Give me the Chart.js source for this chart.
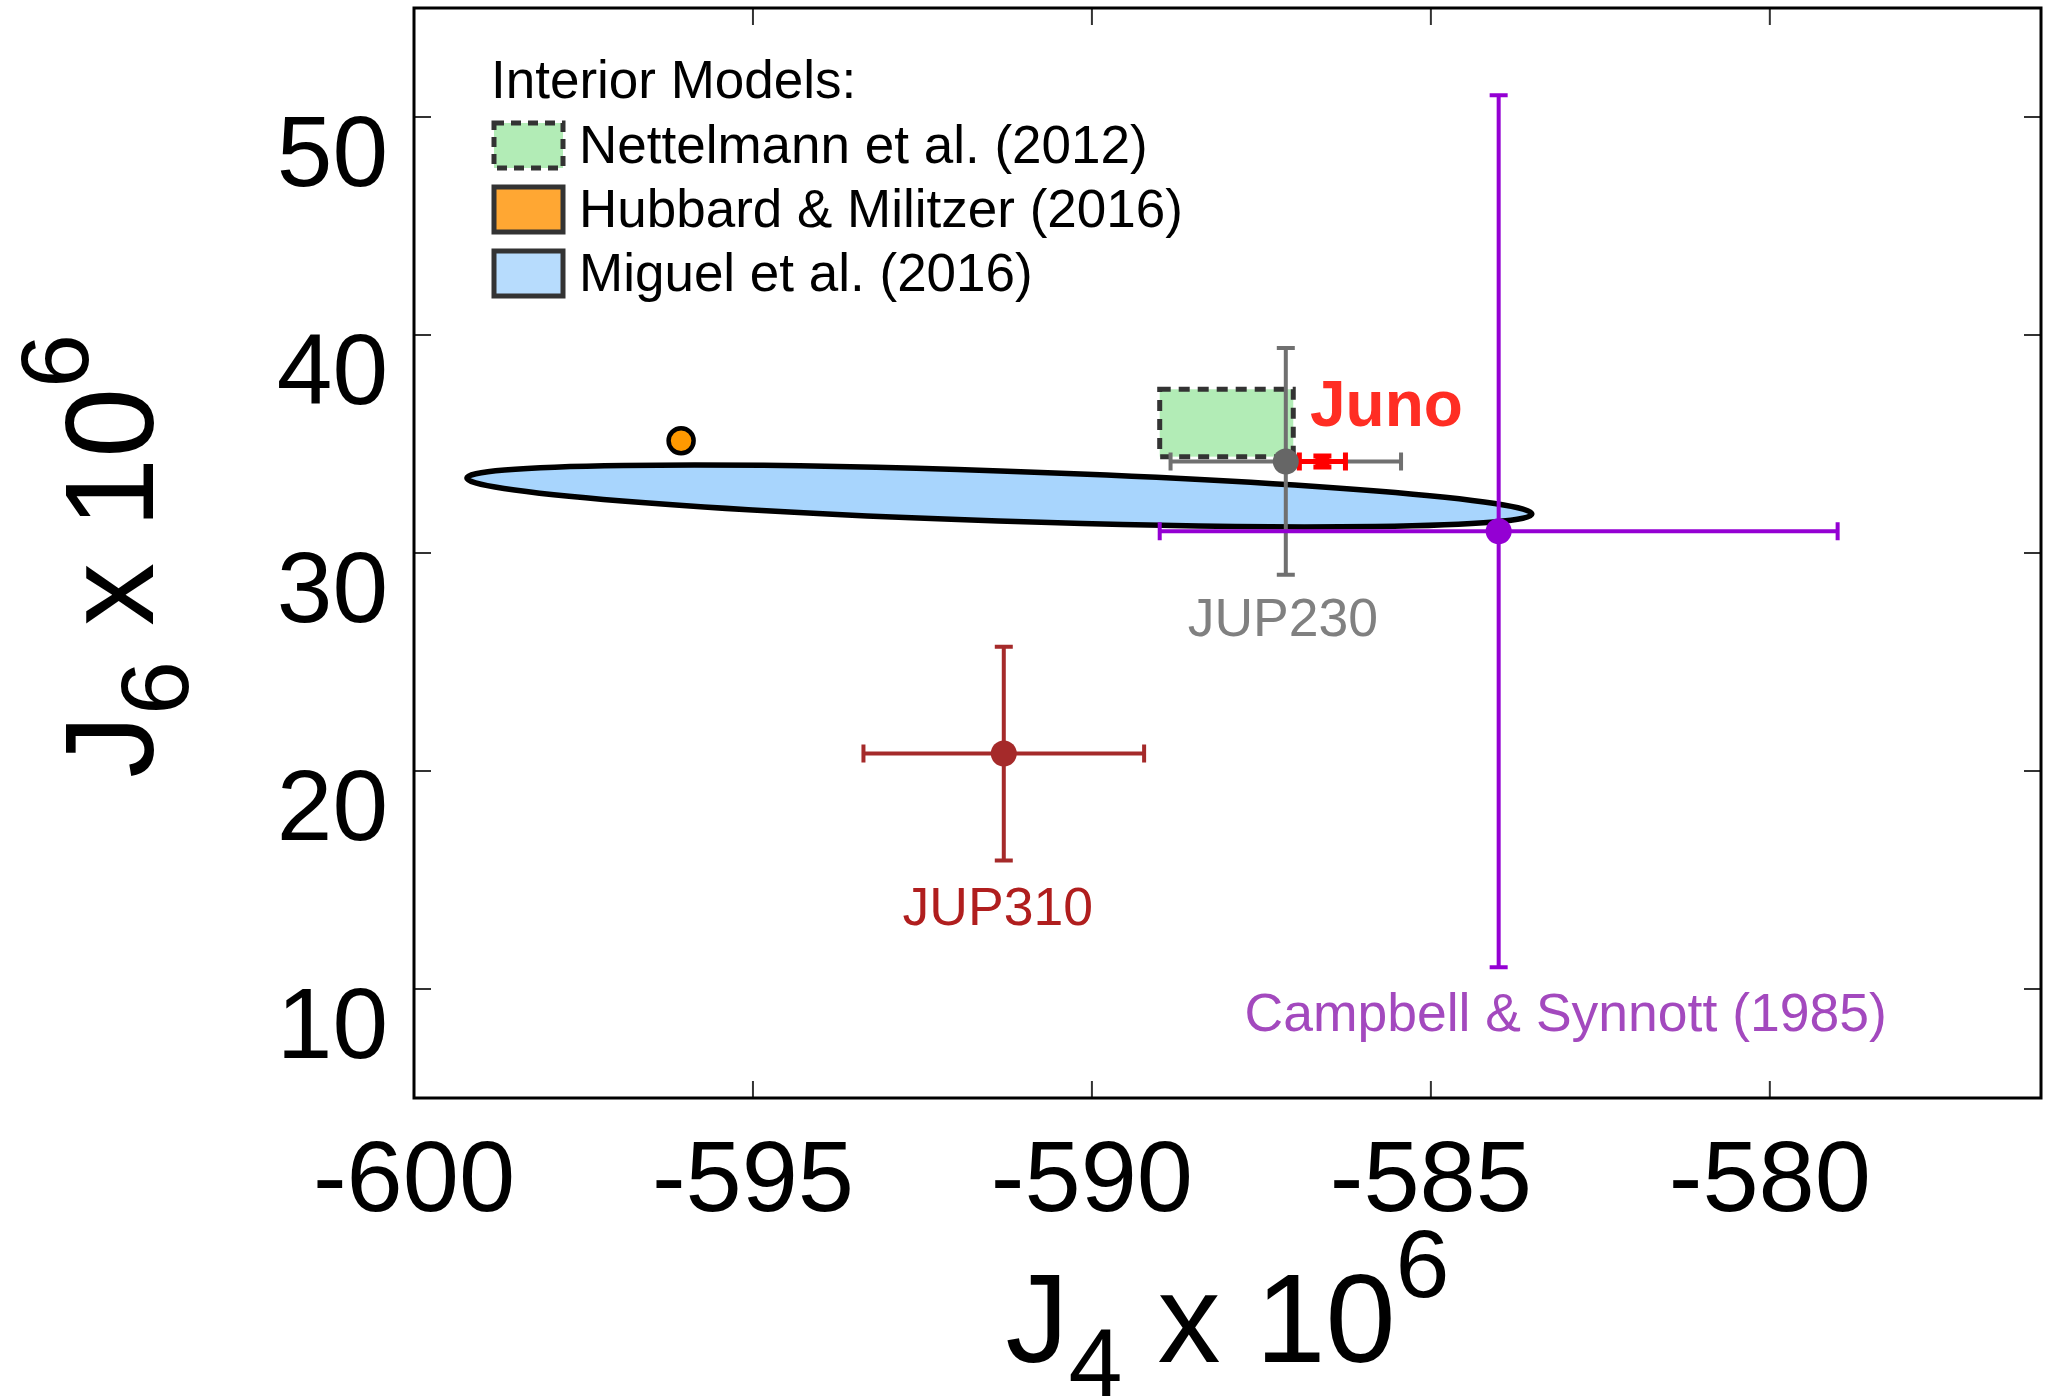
<!DOCTYPE html>
<html>
<head>
<meta charset="utf-8">
<script src="https://cdn.jsdelivr.net/npm/chart.js@4.4.0/dist/chart.umd.min.js"></script>
<style>
  html, body { margin: 0; padding: 0; background: #fff; }
  #wrap { width: 2065px; height: 1396px; }
</style>
</head>
<body>
<div id="wrap"><canvas id="myChart" width="2065" height="1396"></canvas></div>
<script>
// measured gravity harmonics (x 10^6)
const pointNames = ["JUP310", "JUP230", "Campbell & Synnott (1985)", "Juno"];
const j4Values = [-591.3, -587.14, -584.0, -586.6];
const j6Values = [20.8, 34.2, 31.0, 34.2];
const j4Errors = [2.07, 1.7, 5.0, 0.34];
const j6Errors = [4.9, 5.2, 20.0, 0.25];

// interior models
const hubbardJ4 = [-596.06];
const hubbardJ6 = [35.15];
const nettelmannJ4 = [-589.0, -587.03];
const nettelmannJ6 = [34.42, 37.51];
const miguelTipsJ4 = [-599.22, -583.51];
const miguelTipsJ6 = [33.44, 31.79];
const miguelHalfWidthJ6 = [1.15];

const legendTitle = "Interior Models:";
const legendLabels = ["Nettelmann et al. (2012)", "Hubbard & Militzer (2016)", "Miguel et al. (2016)"];

const xTicks = [-600, -595, -590, -585, -580];
const yTicks = [10, 20, 30, 40, 50];

// styles
const FONT = "'Liberation Sans', Arial, Helvetica, sans-serif";
const markerColors = ["#a52a2a", "#666666", "#9400d3", "#ff0000"];
const barColors = ["#a52a2a", "#707070", "#9400d3", "#ff0000"];
const labelColors = ["#b01e1e", "#808080", "#a349be", "#ff2d23"];
const labelFonts = ["53.5px " + FONT, "53.5px " + FONT, "53.5px " + FONT, "bold 64px " + FONT];
const labelShift = [[-6, 157], [-3, 160], [67, 485], [64, -53]];
const legendFills = ["#b2ecb6", "#ffa733", "#b7dcfd"];

const shapesPlugin = {
  id: "shapes",
  beforeDatasetsDraw(chart) {
    const ctx = chart.ctx;
    const xs = chart.scales.x, ys = chart.scales.y;
    ctx.save();

    // Nettelmann box
    const rx1 = xs.getPixelForValue(nettelmannJ4[0]), rx2 = xs.getPixelForValue(nettelmannJ4[1]);
    const ry1 = ys.getPixelForValue(nettelmannJ6[1]), ry2 = ys.getPixelForValue(nettelmannJ6[0]);
    ctx.fillStyle = "#b2ecb6";
    ctx.fillRect(rx1, ry1, rx2 - rx1, ry2 - ry1);
    ctx.setLineDash([11, 8]);
    ctx.lineWidth = 5;
    ctx.strokeStyle = "#333333";
    ctx.strokeRect(rx1, ry1, rx2 - rx1, ry2 - ry1);
    ctx.setLineDash([]);

    // Miguel ellipse
    const x1 = xs.getPixelForValue(miguelTipsJ4[0]), y1 = ys.getPixelForValue(miguelTipsJ6[0]);
    const x2 = xs.getPixelForValue(miguelTipsJ4[1]), y2 = ys.getPixelForValue(miguelTipsJ6[1]);
    const a = Math.hypot(x2 - x1, y2 - y1) / 2;
    const b = Math.abs(ys.getPixelForValue(0) - ys.getPixelForValue(miguelHalfWidthJ6[0]));
    ctx.beginPath();
    ctx.ellipse((x1 + x2) / 2, (y1 + y2) / 2, a, b, Math.atan2(y2 - y1, x2 - x1), 0, Math.PI * 2);
    ctx.fillStyle = "#a8d5fd";
    ctx.fill();
    ctx.lineWidth = 5.5;
    ctx.strokeStyle = "#000";
    ctx.stroke();

    // error bars
    const cap = 9;
    j4Values.forEach((v, i) => {
      const px = xs.getPixelForValue(v), py = ys.getPixelForValue(j6Values[i]);
      const xl = xs.getPixelForValue(v - j4Errors[i]), xr = xs.getPixelForValue(v + j4Errors[i]);
      const yt = ys.getPixelForValue(j6Values[i] + j6Errors[i]), yb = ys.getPixelForValue(j6Values[i] - j6Errors[i]);
      ctx.strokeStyle = barColors[i];
      ctx.lineWidth = i === 3 ? 5 : 4;
      ctx.beginPath();
      ctx.moveTo(xl, py); ctx.lineTo(xr, py);
      ctx.moveTo(xl, py - cap); ctx.lineTo(xl, py + cap);
      ctx.moveTo(xr, py - cap); ctx.lineTo(xr, py + cap);
      ctx.moveTo(px, yt); ctx.lineTo(px, yb);
      ctx.moveTo(px - cap, yt); ctx.lineTo(px + cap, yt);
      ctx.moveTo(px - cap, yb); ctx.lineTo(px + cap, yb);
      ctx.stroke();
    });
    ctx.restore();
  },
  afterDraw(chart) {
    const ctx = chart.ctx;
    const area = chart.chartArea;
    const xs = chart.scales.x, ys = chart.scales.y;
    ctx.save();

    // frame with inward ticks
    ctx.strokeStyle = "#333";
    ctx.lineWidth = 2;
    ctx.beginPath();
    xTicks.forEach(t => {
      const px = xs.getPixelForValue(t);
      ctx.moveTo(px, area.bottom); ctx.lineTo(px, area.bottom - 17);
      ctx.moveTo(px, area.top); ctx.lineTo(px, area.top + 17);
    });
    yTicks.forEach(t => {
      const py = ys.getPixelForValue(t);
      ctx.moveTo(area.left, py); ctx.lineTo(area.left + 17, py);
      ctx.moveTo(area.right, py); ctx.lineTo(area.right - 17, py);
    });
    ctx.stroke();
    ctx.strokeStyle = "#000";
    ctx.lineWidth = 3;
    ctx.strokeRect(area.left, area.top, area.right - area.left, area.bottom - area.top);

    // point labels
    ctx.textAlign = "center";
    ctx.textBaseline = "middle";
    pointNames.forEach((name, i) => {
      ctx.font = labelFonts[i];
      ctx.fillStyle = labelColors[i];
      ctx.fillText(name, xs.getPixelForValue(j4Values[i]) + labelShift[i][0],
        ys.getPixelForValue(j6Values[i]) + labelShift[i][1]);
    });

    // legend
    const lx = area.left + 80;
    ctx.textAlign = "left";
    ctx.fillStyle = "#000";
    ctx.font = "53px " + FONT;
    ctx.fillText(legendTitle, area.left + 77, area.top + 75);
    legendLabels.forEach((lab, i) => {
      const cy = area.top + 137 + i * 64;
      ctx.fillStyle = legendFills[i];
      ctx.fillRect(lx, cy - 22, 69, 45);
      ctx.strokeStyle = "#333";
      ctx.lineWidth = 5;
      ctx.setLineDash(i === 0 ? [10, 7] : []);
      ctx.strokeRect(lx, cy - 22, 69, 45);
      ctx.setLineDash([]);
      ctx.fillStyle = "#000";
      ctx.fillText(lab, lx + 85, cy + 3);
    });

    // axis titles with sub/superscripts
    const main = "126px " + FONT, small = "97px " + FONT;
    const drawTitle = (parts, cx, baseY) => {
      let w = 0;
      parts.forEach(p => { ctx.font = p[1]; w += ctx.measureText(p[0]).width; });
      let x = cx - w / 2;
      ctx.textAlign = "left";
      ctx.textBaseline = "alphabetic";
      ctx.fillStyle = "#000";
      parts.forEach(p => {
        ctx.font = p[1];
        ctx.fillText(p[0], x, baseY + p[2]);
        x += ctx.measureText(p[0]).width;
      });
    };
    drawTitle([["J", main, 0], ["4", small, 34], [" x 10", main, 0], ["6", small, -65]],
      (area.left + area.right) / 2, 1362);
    ctx.translate(153, (area.top + area.bottom) / 2 + 3);
    ctx.rotate(-Math.PI / 2);
    drawTitle([["J", main, 0], ["6", small, 35], [" x 10", main, 0], ["6", small, -65]], 0, 0);
    ctx.restore();
  }
};

const config = {
  type: "scatter",
  data: {
    datasets: [
      {
        label: "Measurements",
        data: j4Values.map((v, i) => ({ x: v, y: j6Values[i] })),
        pointBackgroundColor: markerColors,
        pointBorderWidth: 0,
        pointRadius: [13, 13, 13, 10],
        pointStyle: ["circle", "circle", "circle", "rect"],
      },
      {
        label: "Hubbard & Militzer (2016)",
        data: hubbardJ4.map((v, i) => ({ x: v, y: hubbardJ6[i] })),
        pointBackgroundColor: "#ff9900",
        pointBorderColor: "#000",
        pointBorderWidth: 4.5,
        pointRadius: 12.5,
      },
    ],
  },
  options: {
    responsive: false,
    animation: false,
    devicePixelRatio: 1,
    layout: { autoPadding: false, padding: { left: 0, top: 8, right: 24, bottom: 0 } },
    plugins: { legend: { display: false }, tooltip: { enabled: false } },
    scales: {
      x: {
        type: "linear",
        min: -600,
        max: -576,
        afterBuildTicks: s => { s.ticks = xTicks.map(v => ({ value: v })); },
        afterFit: s => { s.height = 298; s.paddingLeft = 0; s.paddingRight = 0; },
        grid: { display: false, drawTicks: false },
        border: { display: false },
        ticks: { font: { family: FONT, size: 101 }, color: "#000", padding: 25, maxRotation: 0 },
      },
      y: {
        type: "linear",
        min: 5,
        max: 55,
        afterBuildTicks: s => { s.ticks = yTicks.map(v => ({ value: v })); },
        afterFit: s => { s.width = 414; s.paddingTop = 0; s.paddingBottom = 0; },
        grid: { display: false, drawTicks: false },
        border: { display: false },
        ticks: { font: { family: FONT, size: 100 }, color: "#000", padding: 26, labelOffset: 41 },
      },
    },
  },
  plugins: [shapesPlugin],
};

new Chart(document.getElementById("myChart").getContext("2d"), config);
</script>
</body>
</html>
